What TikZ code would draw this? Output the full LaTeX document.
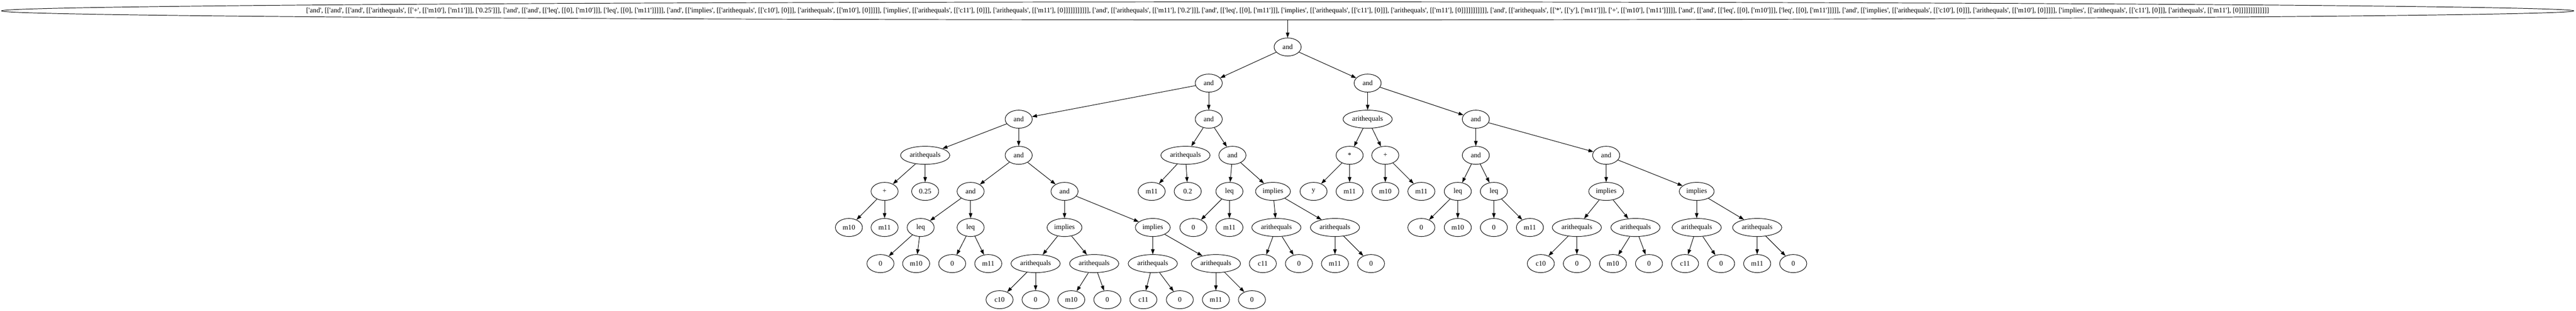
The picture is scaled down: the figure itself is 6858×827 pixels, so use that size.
\documentclass[tikz,border=0pt]{standalone}
\usepackage{fontspec}
\newfontfamily\dotfont{Liberation Serif}
\usetikzlibrary{shapes.geometric,arrows.meta}
\begin{document}
\begin{tikzpicture}[x=0.75pt,y=-0.75pt,line width=1pt,>={Triangle[length=10pt,width=7pt]}]
\tikzstyle{vertex}=[draw, ellipse, fill=white, inner xsep=4pt, inner ysep=2pt, minimum width=54pt, minimum height=36pt, font=\dotfont\fontsize{14pt}{16pt}\selectfont]
\tikzstyle{topvertex}=[vertex, inner sep=0pt, minimum width=5136pt, minimum height=36pt]
\useasboundingbox (0,0) rectangle (6858,827);

\node[topvertex] (t) at (3428,29) {\makebox[0pt]{['and', [['and', [['and', [['arithequals', [['+', [['m10'], ['m11']]], ['0.25']]], ['and', [['and', [['leq', [[0], ['m10']]], ['leq', [[0], ['m11']]]]], ['and', [['implies', [['arithequals', [['c10'], [0]]], ['arithequals', [['m10'], [0]]]]], ['implies', [['arithequals', [['c11'], [0]]], ['arithequals', [['m11'], [0]]]]]]]]]]], ['and', [['arithequals', [['m11'], ['0.2']]], ['and', [['leq', [[0], ['m11']]], ['implies', [['arithequals', [['c11'], [0]]], ['arithequals', [['m11'], [0]]]]]]]]]]], ['and', [['arithequals', [['*', [['y'], ['m11']]], ['+', [['m10'], ['m11']]]]], ['and', [['and', [['leq', [[0], ['m10']]], ['leq', [[0], ['m11']]]]], ['and', [['implies', [['arithequals', [['c10'], [0]]], ['arithequals', [['m10'], [0]]]]], ['implies', [['arithequals', [['c11'], [0]]], ['arithequals', [['m11'], [0]]]]]]]]]]]]]}};

\node[vertex] (r) at (3428,125) {and};

\node[vertex] (r1) at (3218,221) {and};
\node[vertex] (r2) at (3641,221) {and};

\node[vertex] (r11) at (2712,317) {and};
\node[vertex] (r12) at (3218,317) {and};
\node[vertex] (r21) at (3641,317) {arithequals};
\node[vertex] (r22) at (3929,317) {and};

\node[vertex] (r111) at (2463,413) {arithequals};
\node[vertex] (r112) at (2712,413) {and};
\node[vertex] (r121) at (3156,413) {arithequals};
\node[vertex] (r122) at (3281,413) {and};
\node[vertex] (r211) at (3593,413) {*};
\node[vertex] (r212) at (3688,413) {+};
\node[vertex] (r221) at (3929,413) {and};
\node[vertex] (r222) at (4276,413) {and};

\node[vertex] (r1111) at (2355,509) {+};
\node[vertex] (r1112) at (2463,509) {0.25};
\node[vertex] (r1121) at (2584,509) {and};
\node[vertex] (r1122) at (2834,509) {and};
\node[vertex] (r1211) at (3066,509) {m11};
\node[vertex] (r1212) at (3162,509) {0.2};
\node[vertex] (r1221) at (3273,509) {leq};
\node[vertex] (r1222) at (3389,509) {implies};
\node[vertex] (r2111) at (3497,509) {y};
\node[vertex] (r2112) at (3593,509) {m11};
\node[vertex] (r2121) at (3688,509) {m10};
\node[vertex] (r2122) at (3784,509) {m11};
\node[vertex] (r2211) at (3881,509) {leq};
\node[vertex] (r2212) at (3977,509) {leq};
\node[vertex] (r2221) at (4276,509) {implies};
\node[vertex] (r2222) at (4517,509) {implies};

\node[vertex] (r11111) at (2260,605) {m10};
\node[vertex] (r11112) at (2355,605) {m11};
\node[vertex] (r11211) at (2451,605) {leq};
\node[vertex] (r11212) at (2584,605) {leq};
\node[vertex] (r11221) at (2834,605) {implies};
\node[vertex] (r11222) at (3069,605) {implies};
\node[vertex] (r12211) at (3177,605) {0};
\node[vertex] (r12212) at (3273,605) {m11};
\node[vertex] (r12221) at (3398,605) {arithequals};
\node[vertex] (r12222) at (3554,605) {arithequals};
\node[vertex] (r22111) at (3784,605) {0};
\node[vertex] (r22112) at (3881,605) {m10};
\node[vertex] (r22121) at (3977,605) {0};
\node[vertex] (r22122) at (4073,605) {m11};
\node[vertex] (r22211) at (4198,605) {arithequals};
\node[vertex] (r22212) at (4354,605) {arithequals};
\node[vertex] (r22221) at (4517,605) {arithequals};
\node[vertex] (r22222) at (4678,605) {arithequals};

\node[vertex] (r112111) at (2344,701) {0};
\node[vertex] (r112112) at (2439,701) {m10};
\node[vertex] (r112121) at (2535,701) {0};
\node[vertex] (r112122) at (2631,701) {m11};
\node[vertex] (r112211) at (2757,701) {arithequals};
\node[vertex] (r112212) at (2913,701) {arithequals};
\node[vertex] (r112221) at (3069,701) {arithequals};
\node[vertex] (r112222) at (3237,701) {arithequals};
\node[vertex] (r122211) at (3362,701) {c11};
\node[vertex] (r122212) at (3458,701) {0};
\node[vertex] (r122221) at (3554,701) {m11};
\node[vertex] (r122222) at (3650,701) {0};
\node[vertex] (r222111) at (4102,701) {c10};
\node[vertex] (r222112) at (4198,701) {0};
\node[vertex] (r222121) at (4294,701) {m10};
\node[vertex] (r222122) at (4390,701) {0};
\node[vertex] (r222211) at (4486,701) {c11};
\node[vertex] (r222212) at (4582,701) {0};
\node[vertex] (r222221) at (4678,701) {m11};
\node[vertex] (r222222) at (4774,701) {0};

\node[vertex] (r1122111) at (2661,797) {c10};
\node[vertex] (r1122112) at (2757,797) {0};
\node[vertex] (r1122121) at (2852,797) {m10};
\node[vertex] (r1122122) at (2948,797) {0};
\node[vertex] (r1122211) at (3044,797) {c11};
\node[vertex] (r1122212) at (3141,797) {0};
\node[vertex] (r1122221) at (3237,797) {m11};
\node[vertex] (r1122222) at (3333,797) {0};

\draw[->] (t) -- (r);
\draw[->] (r) -- (r1);
\draw[->] (r) -- (r2);
\draw[->] (r1) -- (r11);
\draw[->] (r1) -- (r12);
\draw[->] (r2) -- (r21);
\draw[->] (r2) -- (r22);
\draw[->] (r11) -- (r111);
\draw[->] (r11) -- (r112);
\draw[->] (r12) -- (r121);
\draw[->] (r12) -- (r122);
\draw[->] (r21) -- (r211);
\draw[->] (r21) -- (r212);
\draw[->] (r22) -- (r221);
\draw[->] (r22) -- (r222);
\draw[->] (r111) -- (r1111);
\draw[->] (r111) -- (r1112);
\draw[->] (r112) -- (r1121);
\draw[->] (r112) -- (r1122);
\draw[->] (r121) -- (r1211);
\draw[->] (r121) -- (r1212);
\draw[->] (r122) -- (r1221);
\draw[->] (r122) -- (r1222);
\draw[->] (r211) -- (r2111);
\draw[->] (r211) -- (r2112);
\draw[->] (r212) -- (r2121);
\draw[->] (r212) -- (r2122);
\draw[->] (r221) -- (r2211);
\draw[->] (r221) -- (r2212);
\draw[->] (r222) -- (r2221);
\draw[->] (r222) -- (r2222);
\draw[->] (r1111) -- (r11111);
\draw[->] (r1111) -- (r11112);
\draw[->] (r1121) -- (r11211);
\draw[->] (r1121) -- (r11212);
\draw[->] (r1122) -- (r11221);
\draw[->] (r1122) -- (r11222);
\draw[->] (r1221) -- (r12211);
\draw[->] (r1221) -- (r12212);
\draw[->] (r1222) -- (r12221);
\draw[->] (r1222) -- (r12222);
\draw[->] (r2211) -- (r22111);
\draw[->] (r2211) -- (r22112);
\draw[->] (r2212) -- (r22121);
\draw[->] (r2212) -- (r22122);
\draw[->] (r2221) -- (r22211);
\draw[->] (r2221) -- (r22212);
\draw[->] (r2222) -- (r22221);
\draw[->] (r2222) -- (r22222);
\draw[->] (r11211) -- (r112111);
\draw[->] (r11211) -- (r112112);
\draw[->] (r11212) -- (r112121);
\draw[->] (r11212) -- (r112122);
\draw[->] (r11221) -- (r112211);
\draw[->] (r11221) -- (r112212);
\draw[->] (r11222) -- (r112221);
\draw[->] (r11222) -- (r112222);
\draw[->] (r12221) -- (r122211);
\draw[->] (r12221) -- (r122212);
\draw[->] (r12222) -- (r122221);
\draw[->] (r12222) -- (r122222);
\draw[->] (r22211) -- (r222111);
\draw[->] (r22211) -- (r222112);
\draw[->] (r22212) -- (r222121);
\draw[->] (r22212) -- (r222122);
\draw[->] (r22221) -- (r222211);
\draw[->] (r22221) -- (r222212);
\draw[->] (r22222) -- (r222221);
\draw[->] (r22222) -- (r222222);
\draw[->] (r112211) -- (r1122111);
\draw[->] (r112211) -- (r1122112);
\draw[->] (r112212) -- (r1122121);
\draw[->] (r112212) -- (r1122122);
\draw[->] (r112221) -- (r1122211);
\draw[->] (r112221) -- (r1122212);
\draw[->] (r112222) -- (r1122221);
\draw[->] (r112222) -- (r1122222);
\end{tikzpicture}
\end{document}
